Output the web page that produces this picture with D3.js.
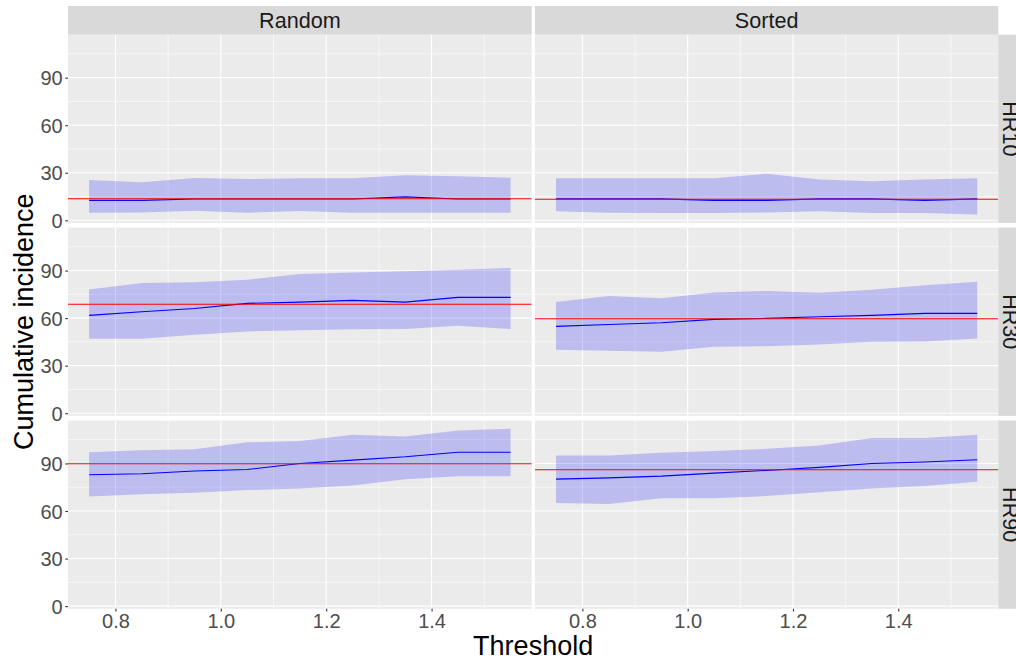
<!DOCTYPE html>
<html><head><meta charset="utf-8">
<script src="https://cdn.jsdelivr.net/npm/d3@7"></script>
<style>body{margin:0;background:#fff}svg{display:block;font-family:"Liberation Sans",Arial,sans-serif}</style>
</head><body><svg id="c" width="1016" height="660"></svg>
<script>
// ---- data ----
const thresholds = [0.75, 0.85, 0.95, 1.05, 1.15, 1.25, 1.35, 1.45, 1.55];
const methods = ["Random", "Sorted"];
const outcomes = ["HR10", "HR30", "HR90"];
const xTicks = [0.8, 1.0, 1.2, 1.4];
const xMinor = [0.7, 0.9, 1.1, 1.3, 1.5];
const yTicks = [0, 30, 60, 90];
const yMinor = [15, 45, 75, 105];

const random_HR10_mean  = [12.6, 12.6, 13.4, 13.4, 13.4, 13.4, 14.8, 13.4, 13.4];
const random_HR10_lower = [4.8, 5.0, 6.0, 4.8, 5.8, 4.8, 4.7, 4.7, 4.7];
const random_HR10_upper = [25.5, 24.0, 26.7, 26.0, 26.5, 26.5, 28.5, 27.8, 26.8];
const sorted_HR10_mean  = [13.5, 13.5, 13.5, 12.6, 12.6, 13.5, 13.5, 12.6, 13.5];
const sorted_HR10_lower = [5.7, 4.8, 4.6, 4.6, 5.0, 5.7, 4.6, 4.6, 3.6];
const sorted_HR10_upper = [26.5, 26.5, 26.5, 26.5, 29.4, 25.7, 24.6, 25.7, 26.5];
const random_HR30_mean  = [61.7, 64.0, 66.1, 69.3, 70.1, 71.2, 70.1, 73.1, 73.1];
const random_HR30_lower = [47.0, 47.0, 49.5, 51.6, 52.3, 52.9, 53.1, 55.2, 53.1];
const random_HR30_upper = [78.1, 82.1, 82.7, 84.2, 87.8, 88.8, 89.5, 90.5, 91.6];
const sorted_HR30_mean  = [54.8, 56.0, 57.1, 59.2, 59.8, 60.9, 61.7, 63.0, 63.0];
const sorted_HR30_lower = [40.1, 39.4, 38.8, 41.9, 42.2, 43.4, 45.1, 45.3, 47.2];
const sorted_HR30_upper = [70.1, 73.9, 72.6, 76.2, 77.1, 76.0, 77.9, 80.8, 82.9];
const random_HR90_mean  = [82.9, 83.5, 85.2, 86.2, 90.0, 92.1, 94.2, 97.1, 97.1];
const random_HR90_lower = [69.2, 70.5, 71.5, 73.2, 74.2, 76.1, 80.1, 82.0, 82.0];
const random_HR90_upper = [97.1, 98.4, 99.0, 103.3, 104.1, 108.1, 107.0, 110.8, 111.9];
const sorted_HR90_mean  = [80.1, 80.9, 82.0, 83.9, 85.6, 87.5, 90.0, 90.9, 92.3];
const sorted_HR90_lower = [65.0, 64.4, 68.1, 68.1, 69.4, 71.9, 74.2, 75.7, 78.4];
const sorted_HR90_upper = [95.0, 95.0, 96.7, 97.8, 99.2, 101.3, 106.0, 106.0, 108.1];
const random_reference = [13.6, 68.7, 89.8];
const sorted_reference = [13.3, 59.6, 86.0];

const series = {
  Random: {HR10: [random_HR10_mean, random_HR10_lower, random_HR10_upper],
           HR30: [random_HR30_mean, random_HR30_lower, random_HR30_upper],
           HR90: [random_HR90_mean, random_HR90_lower, random_HR90_upper]},
  Sorted: {HR10: [sorted_HR10_mean, sorted_HR10_lower, sorted_HR10_upper],
           HR30: [sorted_HR30_mean, sorted_HR30_lower, sorted_HR30_upper],
           HR90: [sorted_HR90_mean, sorted_HR90_lower, sorted_HR90_upper]}
};
const refs = {Random: random_reference, Sorted: sorted_reference};

// ---- layout ----
const svg = d3.select("#c");
const colX = [[68, 531.7], [535, 998.3]];
const rowTop0 = 34.7, rowH = 188.3, rowGap = 4.6;
const stripTop = 6;
const rowY = i => [rowTop0 + i * (rowH + rowGap), rowTop0 + i * (rowH + rowGap) + rowH];

const xScales = colX.map(r => d3.scaleLinear().domain([0.71, 1.59]).range(r));
const yScales = outcomes.map((o, i) => d3.scaleLinear().domain([-1.7, 117.1]).range([rowY(i)[1], rowY(i)[0]]));

const defs = svg.append("defs");

methods.forEach((m, ci) => {
  const x = xScales[ci];
  // strip top
  svg.append("rect").attr("x", colX[ci][0]).attr("y", stripTop)
    .attr("width", colX[ci][1] - colX[ci][0]).attr("height", rowTop0 - stripTop).attr("fill", "#d9d9d9");
  svg.append("text").attr("x", (colX[ci][0] + colX[ci][1]) / 2).attr("y", 28.3)
    .attr("text-anchor", "middle").attr("font-size", 21.6).attr("fill", "#1a1a1a").text(m);

  outcomes.forEach((o, ri) => {
    const y = yScales[ri];
    const [y0, y1] = rowY(ri);
    const g = svg.append("g");
    g.append("rect").attr("x", colX[ci][0]).attr("y", y0)
      .attr("width", colX[ci][1] - colX[ci][0]).attr("height", rowH).attr("fill", "#ebebeb");
    const cid = `clip-${ci}-${ri}`;
    defs.append("clipPath").attr("id", cid).append("rect")
      .attr("x", colX[ci][0]).attr("y", y0).attr("width", colX[ci][1] - colX[ci][0]).attr("height", rowH);
    const p = g.append("g").attr("clip-path", `url(#${cid})`);
    // grid
    yMinor.forEach(v => p.append("line").attr("x1", colX[ci][0]).attr("x2", colX[ci][1])
      .attr("y1", y(v)).attr("y2", y(v)).attr("stroke", "#fff").attr("stroke-width", 0.6));
    xMinor.forEach(v => p.append("line").attr("y1", y0).attr("y2", y1)
      .attr("x1", x(v)).attr("x2", x(v)).attr("stroke", "#fff").attr("stroke-width", 0.6));
    yTicks.forEach(v => p.append("line").attr("x1", colX[ci][0]).attr("x2", colX[ci][1])
      .attr("y1", y(v)).attr("y2", y(v)).attr("stroke", "#fff").attr("stroke-width", 1.1));
    xTicks.forEach(v => p.append("line").attr("y1", y0).attr("y2", y1)
      .attr("x1", x(v)).attr("x2", x(v)).attr("stroke", "#fff").attr("stroke-width", 1.1));

    const [mean, lower, upper] = series[m][o];
    const data = thresholds.map((t, k) => ({t, mean: mean[k], lo: lower[k], hi: upper[k]}));
    p.append("path").datum(data)
      .attr("d", d3.area().x(d => x(d.t)).y0(d => y(d.lo)).y1(d => y(d.hi)))
      .attr("fill", "blue").attr("fill-opacity", 0.2);
    p.append("path").datum(data)
      .attr("d", d3.line().x(d => x(d.t)).y(d => y(d.mean)))
      .attr("fill", "none").attr("stroke", "blue").attr("stroke-width", 1.1);
    p.append("line").attr("x1", colX[ci][0]).attr("x2", colX[ci][1])
      .attr("y1", y(refs[m][ri])).attr("y2", y(refs[m][ri]))
      .attr("stroke", "red").attr("stroke-width", 1.1);

    // y axis on first column
    if (ci === 0) {
      const ax = svg.append("g").attr("transform", `translate(${colX[0][0]},0)`)
        .call(d3.axisLeft(y).tickValues(yTicks).tickSize(2.7).tickPadding(2.6).tickFormat(d3.format("d")));
      ax.select(".domain").remove();
      ax.selectAll(".tick line").attr("stroke", "#333333").attr("stroke-width", 1.1);
      ax.selectAll(".tick text").attr("font-size", 20).attr("fill", "#4d4d4d")
        .attr("font-family", "Liberation Sans, Arial, sans-serif").attr("dy", "0.36em");
    }
    // right strip
    if (ci === 1) {
      svg.append("rect").attr("x", colX[1][1]).attr("y", y0).attr("width", 24).attr("height", rowH).attr("fill", "#d9d9d9");
      const cy = (y0 + y1) / 2;
      svg.append("text").attr("transform", `translate(1002.5,${cy}) rotate(90)`)
        .attr("text-anchor", "middle").attr("font-size", 21.6).attr("fill", "#1a1a1a").text(o);
    }
    // x axis on last row
    if (ri === outcomes.length - 1) {
      const ax = svg.append("g").attr("transform", `translate(0,${y1})`)
        .call(d3.axisBottom(x).tickValues(xTicks).tickSize(2.7).tickPadding(2.5).tickFormat(d3.format(".1f")));
      ax.select(".domain").remove();
      ax.selectAll(".tick line").attr("stroke", "#333333").attr("stroke-width", 1.1);
      ax.selectAll(".tick text").attr("font-size", 20).attr("fill", "#4d4d4d")
        .attr("font-family", "Liberation Sans, Arial, sans-serif");
    }
  });
});

// axis titles
svg.append("text").attr("x", (colX[0][0] + colX[1][1]) / 2).attr("y", 655)
  .attr("text-anchor", "middle").attr("font-size", 27).attr("fill", "#000").text("Threshold");
svg.append("text").attr("transform", `translate(33,${(rowY(0)[0] + rowY(2)[1]) / 2}) rotate(-90)`)
  .attr("text-anchor", "middle").attr("font-size", 27).attr("fill", "#000").text("Cumulative incidence");
</script>
</body></html>
